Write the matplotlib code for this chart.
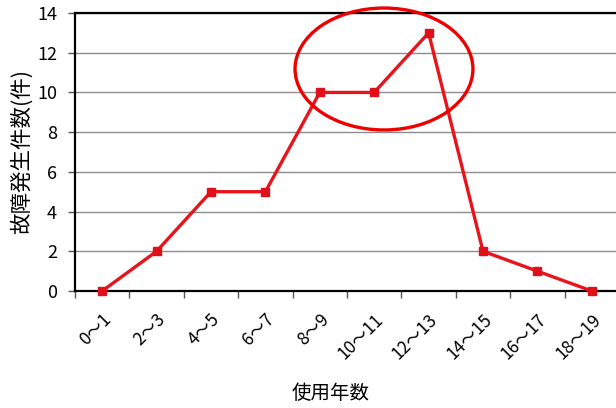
import numpy as np
import matplotlib
matplotlib.use('Agg')
from matplotlib import pyplot as plt
from matplotlib.patches import Ellipse

plt.rcParams['font.family'] = ['Noto Sans CJK JP', 'DejaVu Sans']

# Data
categories = ['0～1', '2～3', '4～5', '6～7', '8～9', '10～11', '12～13', '14～15', '16～17', '18～19']
counts = [0, 2, 5, 5, 10, 10, 13, 2, 1, 0]

fig = plt.figure(figsize=(6.16, 4.08), dpi=100)
ax = fig.add_axes([75 / 616, 1 - 291 / 408, 544 / 616, 278 / 408])

x = np.arange(len(categories))
ax.plot(x, counts, color='#e8141c', lw=2.4, marker='s', ms=6,
        mfc='#e0101a', mec='#e0101a', zorder=3, clip_on=False)

ax.set_xlim(-0.5, len(categories) - 0.5)
ax.set_ylim(0, 14)
ax.set_yticks(np.arange(0, 15, 2))
ax.yaxis.grid(True, color='#8c8c8c', lw=1)
ax.set_axisbelow(True)

ax.set_xticks(x)
ax.set_xticklabels(categories, rotation=45, ha='right', rotation_mode='anchor', fontsize=12.5)
ax.set_xticks(np.arange(-0.5, len(categories)), minor=True)
ax.tick_params(axis='x', which='major', length=0, pad=14)
ax.tick_params(axis='x', which='minor', length=5, width=1, color='#555555')
ax.tick_params(axis='y', length=5, width=1, color='#555555', labelsize=13, pad=8)

for s in ['left', 'bottom', 'top']:
    ax.spines[s].set_color('black')
    ax.spines[s].set_linewidth(1.6)
ax.spines['right'].set_visible(False)

ax.set_xlabel('使用年数', fontsize=14)
ax.xaxis.set_label_coords(0.47, -0.33)
ax.set_ylabel('故障発生件数(件)', fontsize=15.5)
ax.yaxis.set_label_coords(-0.078, 0.5)

# highlight ellipse
ell = Ellipse((5.18, 11.18), 3.27, 6.14, fill=False, ec='#ee0000', lw=2.4, clip_on=False, zorder=4)
ax.add_patch(ell)

plt.savefig('out.png', dpi=100)
